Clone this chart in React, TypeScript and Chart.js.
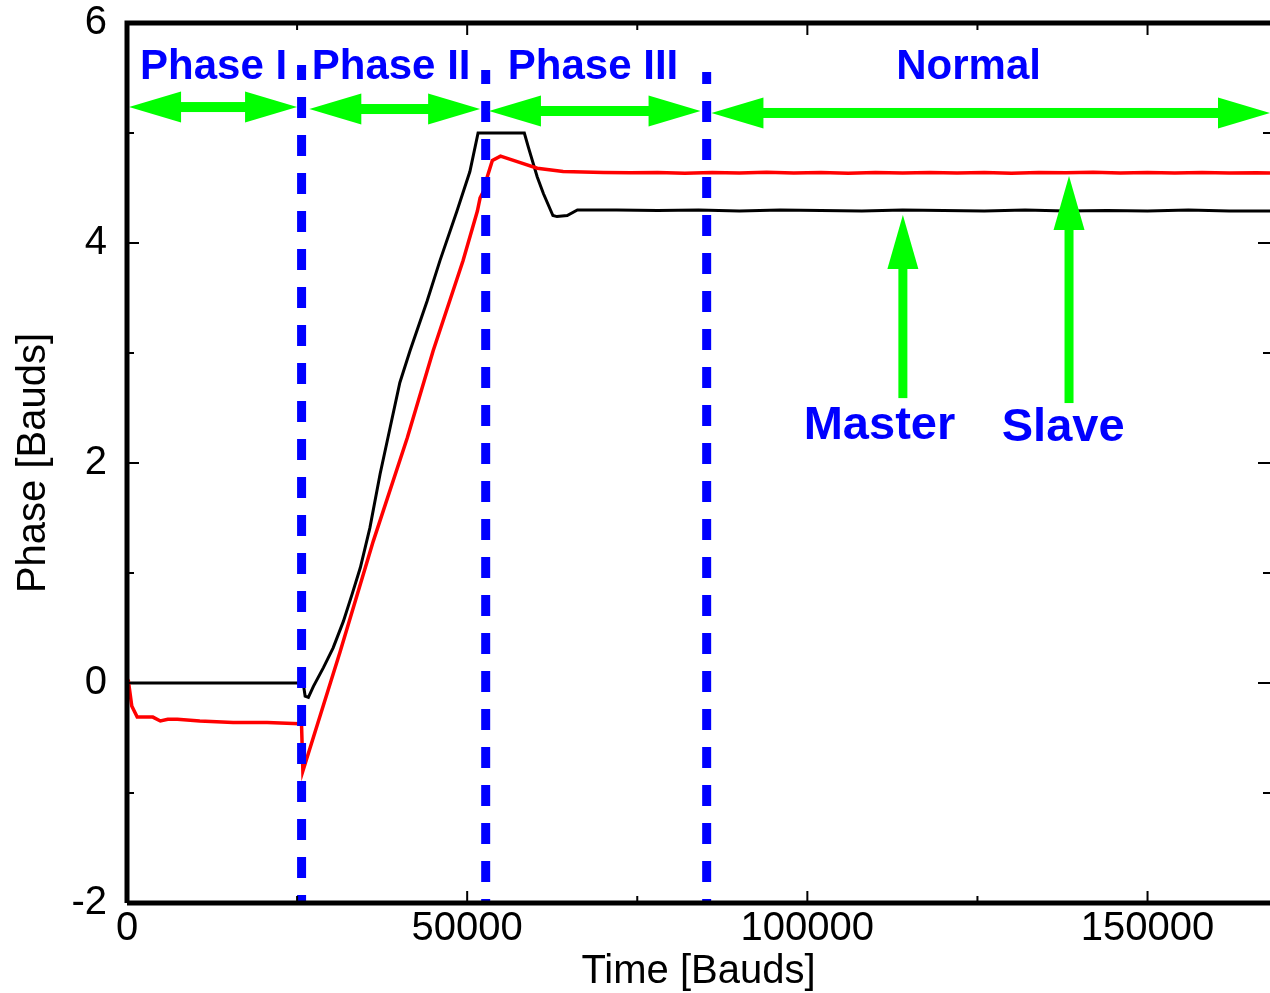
import React, { useEffect, useRef } from "react";
import { Chart, registerables } from "chart.js";

Chart.register(...registerables);

// ---------- data ----------
const MASTER_X = [
  0, 25900, 26180, 26660, 27400, 28870, 30300, 31800, 33100, 34300, 35700, 37200, 38700, 40100,
  41600, 44100, 46000, 48500, 50400, 51600, 58400, 59000, 60300, 61200, 62600, 63200, 64700,
  66200, 72000, 78000, 84000, 90000, 96000, 102000, 108000, 114000, 120000, 126000, 132000,
  138000, 144000, 150000, 156000, 162000, 168000,
];
const MASTER_Y = [
  0, 0, -0.12, -0.13, -0.03, 0.14, 0.32, 0.56, 0.81, 1.05, 1.41, 1.9, 2.33, 2.73,
  3.02, 3.47, 3.84, 4.29, 4.65, 5.0, 5.0, 4.87, 4.6, 4.45, 4.25, 4.24, 4.25,
  4.3, 4.3, 4.295, 4.3, 4.29, 4.3, 4.295, 4.29, 4.3, 4.295, 4.29, 4.3,
  4.29, 4.295, 4.29, 4.3, 4.29, 4.29,
];

const SLAVE_X = [
  0, 200, 700, 1500, 3800, 4900, 6000, 7400, 10700, 15600, 20600, 25400, 25650, 25850,
  31300, 36200, 41200, 45000, 49400, 51500, 51900, 52400, 52900, 53700, 54900, 57800, 60300,
  64100, 70000, 74000, 78000, 82000, 86000, 90000, 94000, 98000, 102000, 106000, 110000,
  114000, 118000, 122000, 126000, 130000, 134000, 138000, 142000, 146000, 150000, 154000,
  158000, 162000, 166000, 168000,
];
const SLAVE_Y = [
  0.04, 0.02, -0.21, -0.31, -0.31, -0.345, -0.33, -0.33, -0.345, -0.36, -0.36, -0.37, -0.37, -0.8,
  0.28, 1.29, 2.23, 3.02, 3.84, 4.29, 4.41, 4.47, 4.59, 4.75, 4.79, 4.73, 4.68,
  4.65, 4.64, 4.638, 4.642, 4.635, 4.64, 4.637, 4.643, 4.636, 4.64, 4.634, 4.641,
  4.637, 4.642, 4.636, 4.64, 4.635, 4.641, 4.638, 4.643, 4.636, 4.64, 4.637,
  4.641, 4.636, 4.639, 4.637,
];

const X_MAJOR = [0, 50000, 100000, 150000];
const X_MINOR = [25000, 75000, 125000];
const Y_MAJOR = [-2, 0, 2, 4, 6];
const Y_MINOR = [-1, 1, 3, 5];

const PHASE_LINE_X = [25660, 52720, 85200];
const PHASE_LINE_TOP = [5.618, 5.573, 5.555];
const PHASE_DASH_OFFSET = [6, 7, 9];

const PHASE_LABELS = ["Phase I", "Phase II", "Phase III", "Normal"];
const PHASE_LABEL_X = [12720, 38820, 68500, 123700];
const PHASE_LABEL_Y = 5.49;

const SPAN_FROM = [300, 26800, 53200, 85900];
const SPAN_TO = [25000, 51900, 84300, 168000];
const SPAN_Y = [5.236, 5.218, 5.2, 5.182];

const CURVE_LABELS = ["Master", "Slave"];
const CURVE_LABEL_X = [110600, 137600];
const CURVE_LABEL_Y = [2.218, 2.2];
const POINTER_X = [114040, 138460];
const POINTER_TIP = [4.255, 4.609];
const POINTER_BASE = [2.59, 2.545];

const FONT = "'Liberation Sans', Arial, Helvetica, sans-serif";

function arrowHead(ctx: CanvasRenderingContext2D, tx: number, ty: number, dx: number, dy: number, len: number, half: number) {
  const bx = tx - dx * len;
  const by = ty - dy * len;
  const nx = -dy;
  const ny = dx;
  ctx.beginPath();
  ctx.moveTo(tx, ty);
  ctx.lineTo(bx + nx * half, by + ny * half);
  ctx.lineTo(bx - nx * half, by - ny * half);
  ctx.closePath();
  ctx.fill();
}

const overlay = {
  id: "overlay",
  afterDatasetsDraw(chart: any) {
    const ctx: CanvasRenderingContext2D = chart.ctx;
    const xs = chart.scales.x;
    const ys = chart.scales.y;
    const { left, right, top, bottom } = chart.chartArea;
    ctx.save();

    // blue dashed phase separators
    ctx.strokeStyle = "#0000ff";
    ctx.lineWidth = 9;
    ctx.setLineDash([21, 17]);
    PHASE_LINE_X.forEach((v, i) => {
      const px = xs.getPixelForValue(v);
      ctx.lineDashOffset = PHASE_DASH_OFFSET[i];
      ctx.beginPath();
      ctx.moveTo(px, ys.getPixelForValue(PHASE_LINE_TOP[i]));
      ctx.lineTo(px, bottom + 1);
      ctx.stroke();
    });
    ctx.setLineDash([]);
    ctx.lineDashOffset = 0;

    // green horizontal double arrows
    ctx.fillStyle = "#00ff00";
    const HL = 52, HH = 15.5, SW = 10;
    SPAN_FROM.forEach((v, i) => {
      const x1 = xs.getPixelForValue(v);
      const x2 = xs.getPixelForValue(SPAN_TO[i]);
      const y = ys.getPixelForValue(SPAN_Y[i]);
      ctx.fillRect(x1 + HL - 1, y - SW / 2, x2 - x1 - 2 * HL + 2, SW);
      arrowHead(ctx, x1, y, -1, 0, HL, HH);
      arrowHead(ctx, x2, y, 1, 0, HL, HH);
    });

    // green vertical pointers
    POINTER_X.forEach((v, i) => {
      const x = xs.getPixelForValue(v);
      const yt = ys.getPixelForValue(POINTER_TIP[i]);
      const yb = ys.getPixelForValue(POINTER_BASE[i]);
      ctx.fillRect(x - 4.5, yt + 53 - 1, 9, yb - yt - 53 + 1);
      arrowHead(ctx, x, yt, 0, -1, 54, 15.5);
    });

    // labels
    ctx.fillStyle = "#0000ff";
    ctx.textAlign = "center";
    ctx.textBaseline = "alphabetic";
    ctx.font = `bold 42px ${FONT}`;
    PHASE_LABELS.forEach((t, i) => {
      ctx.fillText(t, xs.getPixelForValue(PHASE_LABEL_X[i]), ys.getPixelForValue(PHASE_LABEL_Y));
    });
    ctx.font = `bold 47px ${FONT}`;
    CURVE_LABELS.forEach((t, i) => {
      ctx.fillText(t, xs.getPixelForValue(CURVE_LABEL_X[i]), ys.getPixelForValue(CURVE_LABEL_Y[i]));
    });

    // frame
    ctx.strokeStyle = "#000";
    ctx.lineWidth = 5;
    ctx.beginPath();
    ctx.moveTo(left, bottom);
    ctx.lineTo(left, top);
    ctx.lineTo(right, top);
    ctx.moveTo(left, bottom);
    ctx.lineTo(right, bottom);
    ctx.stroke();

    // inward ticks
    ctx.lineWidth = 2;
    ctx.beginPath();
    const xt = (vals: number[], len: number) => vals.forEach((v) => {
      const px = xs.getPixelForValue(v);
      ctx.moveTo(px, bottom);
      ctx.lineTo(px, bottom - len);
      ctx.moveTo(px, top);
      ctx.lineTo(px, top + len);
    });
    const yt = (vals: number[], len: number) => vals.forEach((v) => {
      const py = ys.getPixelForValue(v);
      ctx.moveTo(left, py);
      ctx.lineTo(left + len, py);
      ctx.moveTo(right, py);
      ctx.lineTo(right - len, py);
    });
    xt(X_MAJOR, 12);
    xt(X_MINOR, 7);
    yt(Y_MAJOR, 12);
    yt(Y_MINOR, 7);
    ctx.stroke();
    ctx.restore();
  },
};

export default function App() {
  const ref = useRef<HTMLCanvasElement | null>(null);
  useEffect(() => {
    document.body.style.margin = "0";
    const canvas = ref.current!;
    const chart = new Chart(canvas, {
      type: "line",
      data: {
        datasets: [
          {
            label: "Slave",
            data: SLAVE_X.map((x, i) => ({ x, y: SLAVE_Y[i] })),
            borderColor: "#ff0000",
            borderWidth: 3.5,
            pointRadius: 0,
            tension: 0,
          },
          {
            label: "Master",
            data: MASTER_X.map((x, i) => ({ x, y: MASTER_Y[i] })),
            borderColor: "#000000",
            borderWidth: 3,
            pointRadius: 0,
            tension: 0,
          },
        ],
      },
      options: {
        responsive: false,
        animation: false,
        devicePixelRatio: 1,
        layout: { padding: { top: 23, right: 0, left: 0, bottom: 0 } },
        plugins: { legend: { display: false }, tooltip: { enabled: false } },
        scales: {
          x: {
            type: "linear",
            min: 0,
            max: 168000,
            grid: { display: false, drawTicks: false },
            border: { display: false },
            afterBuildTicks: (s: any) => {
              s.ticks = X_MAJOR.map((value) => ({ value }));
            },
            ticks: {
              autoSkip: false,
              maxRotation: 0,
              minRotation: 0,
              padding: 6,
              color: "#000",
              font: { family: FONT, size: 40, lineHeight: 1 },
              callback: (v: any) => String(v),
            },
            title: {
              display: true,
              text: "Time [Bauds]",
              color: "#000",
              font: { family: FONT, size: 40, lineHeight: 1 },
              padding: { top: 0, bottom: 1 },
            },
            afterFit: (s: any) => {
              s.height = 90;
              s.paddingLeft = 0;
              s.paddingRight = 0;
            },
          },
          y: {
            type: "linear",
            min: -2,
            max: 6,
            grid: { display: false, drawTicks: false },
            border: { display: false },
            afterBuildTicks: (s: any) => {
              s.ticks = Y_MAJOR.map((value) => ({ value }));
            },
            ticks: {
              padding: 20,
              color: "#000",
              font: { family: FONT, size: 40, lineHeight: 1 },
              callback: (v: any) => String(v),
            },
            title: {
              display: true,
              text: "Phase [Bauds]",
              color: "#000",
              font: { family: FONT, size: 40, lineHeight: 1 },
              padding: { top: 14, bottom: 0 },
            },
            afterFit: (s: any) => {
              s.width = 127;
              s.paddingTop = 0;
              s.paddingBottom = 0;
            },
          },
        },
      },
      plugins: [overlay],
    } as any);
    return () => chart.destroy();
  }, []);
  return (
    <div style={{ width: 1270, height: 993 }}>
      <canvas ref={ref} width={1270} height={993} style={{ display: "block" }} />
    </div>
  );
}
